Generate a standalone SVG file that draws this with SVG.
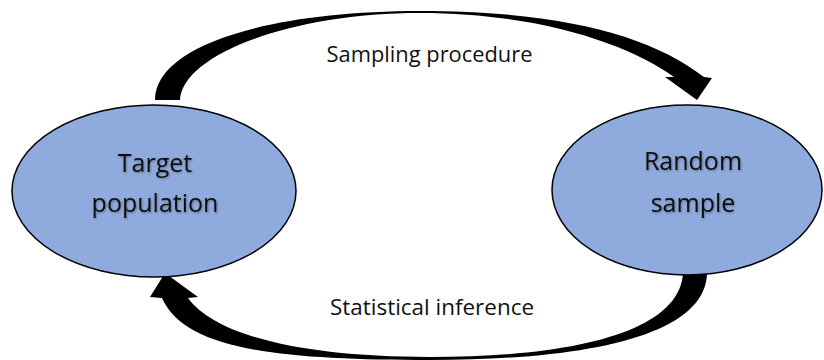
<svg xmlns="http://www.w3.org/2000/svg" width="824" height="360" viewBox="0 0 824 360">
  <defs>
    <filter id="tshadow" x="-10%" y="-30%" width="120%" height="160%">
      <feDropShadow dx="0.8" dy="1" stdDeviation="0.8" flood-color="#000000" flood-opacity="0.35"/>
    </filter>
  </defs>
  <style>
    .node { fill: #8FAADC; stroke: #000000; stroke-width: 1.5; }
    .ntext { font-family: "Open Sans", "Liberation Sans", sans-serif; font-size: 25px; fill: #111111; text-anchor: middle; filter: url(#tshadow); }
    .label { font-family: "Open Sans", "Liberation Sans", sans-serif; font-size: 21.5px; fill: #111111; text-anchor: middle; }
    .arrow { fill: #000000; stroke: none; }
  </style>
  <rect width="824" height="360" fill="#ffffff"/>
  <g id="connectors">
    <g id="sampling-procedure">
      <path class="arrow" d="M155,100 C155,45 270,11 420,11 C560,11 650,35 704,77 L712,78 L697,100 L665,77 L674,77 C630,45 540,13 420,13 C290,13 182,55 180,100 Z"/>
      <text class="label" x="429.5" y="61.5" textLength="206" lengthAdjust="spacingAndGlyphs">Sampling procedure</text>
    </g>
    <g id="statistical-inference">
      <path class="arrow" d="M707,273 C706,335 590,360 430,360 C280,360 185,350 162,298 L150,297 L165,273 L198,297 L188,298 C215,335 300,357 430,357 C580,357 680,330 683,273 Z"/>
      <text class="label" x="432" y="315" textLength="204" lengthAdjust="spacingAndGlyphs">Statistical inference</text>
    </g>
  </g>
  <g id="target-population">
    <ellipse class="node" cx="154" cy="191" rx="142" ry="86"/>
    <text class="ntext" x="155" y="171.5">Target</text>
    <text class="ntext" x="155" y="212">population</text>
  </g>
  <g id="random-sample">
    <ellipse class="node" cx="687" cy="190" rx="135" ry="85"/>
    <text class="ntext" x="693" y="170">Random</text>
    <text class="ntext" x="693" y="212">sample</text>
  </g>
</svg>
